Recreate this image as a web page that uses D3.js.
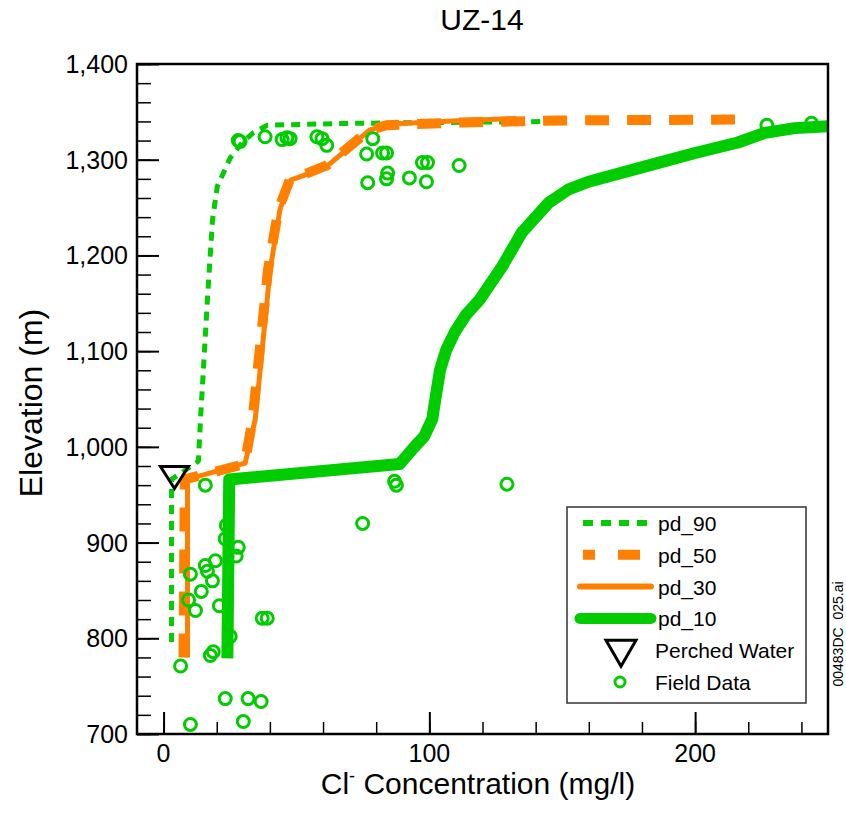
<!DOCTYPE html>
<html>
<head>
<meta charset="utf-8">
<script src="https://cdn.jsdelivr.net/npm/d3@7"></script>
<style>
	body { margin: 0; background: #fff; }
	svg text { font-family: 'Liberation Sans', Arial, sans-serif; fill: #000; }
</style>
</head>
<body>
<svg id="chart" width="846" height="813"></svg>
<script>
// profiles: [ Cl- mg/l, elevation m ]
var pd90 = [
	  [ 3.0, 796 ], [ 3.0, 966 ], [ 13.1, 985 ], [ 13.9, 1029 ], [ 16.5, 1154 ], [ 18.4, 1237 ]
	, [ 20.2, 1272 ], [ 25.1, 1302 ], [ 29.6, 1318 ], [ 33.7, 1328 ], [ 39, 1336 ], [ 70, 1338 ], [ 147, 1340 ]
];
var pd50 = [
	  [ 7.5, 780 ], [ 8.0, 966 ], [ 30.5, 982 ], [ 33.5, 1029 ], [ 36.2, 1102 ], [ 39.3, 1185 ], [ 43.2, 1248 ]
	, [ 47.5, 1279 ], [ 51.3, 1283 ], [ 61.4, 1294 ], [ 67.4, 1308 ], [ 77.5, 1331 ], [ 83.9, 1336 ]
	, [ 112.4, 1339 ], [ 150, 1341 ], [ 215, 1342 ]
];
var pd30 = [
	  [ 9.0, 780 ], [ 9.0, 966 ], [ 30.7, 983 ], [ 34.5, 1029 ], [ 37.1, 1102 ], [ 40.1, 1185 ], [ 43.8, 1248 ]
	, [ 47.9, 1279 ], [ 51.3, 1282 ], [ 61.4, 1293 ], [ 67.4, 1307 ], [ 77.5, 1331 ], [ 83.9, 1337 ]
	, [ 112.4, 1341 ], [ 132.6, 1343 ]
];
var pd10 = [
	  [ 24.0, 779 ], [ 24.7, 966 ], [ 88.8, 982 ], [ 94.4, 1000 ], [ 98.1, 1011 ], [ 101.1, 1029 ], [ 102.5, 1054 ]
	, [ 104.0, 1080 ], [ 106.3, 1101 ], [ 109.6, 1120 ], [ 113.8, 1138 ], [ 119.0, 1154 ], [ 127.3, 1188 ]
	, [ 134.8, 1224 ], [ 144.9, 1255 ], [ 152.4, 1269 ], [ 159.9, 1277 ], [ 181.3, 1293 ], [ 200.0, 1307 ]
	, [ 216.1, 1318 ], [ 226.2, 1328 ], [ 237.5, 1333 ], [ 250, 1335 ]
];
var perched = [ [ 4.1, 968 ] ];
var fieldX = [
	  28.1, 28.8, 38.2, 44.6, 46.4, 47.6, 57.7, 59.6, 61.4, 78.7, 76.4, 82.4, 83.9, 97.4, 99.3, 111.2
	, 84.3, 83.9, 76.8, 92.5, 98.9, 227.0, 243.8
	, 86.9, 87.6, 129.2, 74.9
	, 15.7, 23.6, 23.2, 28.1, 27.3, 19.5, 15.7, 16.5, 10.1, 18.4, 14.2, 9.4, 12.0, 21.0, 37.1, 39.0
	, 25.1, 17.6, 18.7, 6.4, 23.2, 31.8, 36.7, 10.1, 30.0
];
var fieldY = [
	  1320, 1319, 1324, 1321, 1323, 1322, 1324, 1322, 1315, 1322, 1306, 1307, 1307, 1297, 1297, 1294
	, 1286, 1280, 1276, 1281, 1277, 1336, 1338
	, 964, 960, 961, 920
	, 960, 918, 904, 895, 886, 881, 876, 870, 867, 860, 849, 840, 829, 834, 821, 821
	, 802, 782, 786, 771, 737, 737, 734, 710, 713
];
var xTicksMajor = [ 0, 100, 200 ];
var yTicksMajor = [ 700, 800, 900, 1000, 1100, 1200, 1300, 1400 ];
var legendNames = [ 'pd_90', 'pd_50', 'pd_30', 'pd_10', 'Perched Water', 'Field Data' ];

var C = {
	  green  : '#00cc00'
	, orange : '#ff8000'
}
var M = { left: 137, right: 828, top: 64, bottom: 734 };

var svg    = d3.select( '#chart' );
var xScale = d3.scaleLinear().domain( [ -10, 250 ] ).range( [ M.left, M.right ] );
var yScale = d3.scaleLinear().domain( [ 700, 1400 ] ).range( [ M.bottom, M.top ] );

// clip so lines stay in the frame
svg.append( 'defs' ).append( 'clipPath' ).attr( 'id', 'clip' )
	.append( 'rect' )
	.attr( 'x', M.left ).attr( 'y', M.top )
	.attr( 'width', M.right - M.left ).attr( 'height', M.bottom - M.top );

// axes, ticks inward
var xMinor = d3.range( 0, 250, 20 );
var yMinor = d3.range( 700, 1401, 20 );
svg.append( 'g' )
	.attr( 'transform', 'translate(0,'+ M.bottom +')' )
	.call( d3.axisTop( xScale ).tickValues( xMinor ).tickSize( 12 ).tickFormat( '' ) )
	.call( g => g.select( '.domain' ).remove() )
	.call( g => g.selectAll( 'line' ).attr( 'stroke-width', 1.5 ) );
svg.append( 'g' )
	.attr( 'transform', 'translate(0,'+ M.bottom +')' )
	.call( d3.axisTop( xScale ).tickValues( xTicksMajor ).tickSize( 22 ).tickFormat( '' ) )
	.call( g => g.select( '.domain' ).remove() )
	.call( g => g.selectAll( 'line' ).attr( 'stroke-width', 2 ) );
svg.append( 'g' )
	.attr( 'transform', 'translate('+ M.left +',0)' )
	.call( d3.axisRight( yScale ).tickValues( yMinor ).tickSize( 14 ).tickFormat( '' ) )
	.call( g => g.select( '.domain' ).remove() )
	.call( g => g.selectAll( 'line' ).attr( 'stroke-width', 1.5 ) );
svg.append( 'g' )
	.attr( 'transform', 'translate('+ M.left +',0)' )
	.call( d3.axisRight( yScale ).tickValues( yTicksMajor ).tickSize( 22 ).tickFormat( '' ) )
	.call( g => g.select( '.domain' ).remove() )
	.call( g => g.selectAll( 'line' ).attr( 'stroke-width', 2 ) );

// tick labels
svg.selectAll( null )
	.data( xTicksMajor )
	.join( 'text' )
	.attr( 'x', d => xScale( d ) )
	.attr( 'y', 762 )
	.attr( 'text-anchor', 'middle' )
	.attr( 'font-size', '25px' )
	.text( d => d );
svg.selectAll( null )
	.data( yTicksMajor )
	.join( 'text' )
	.attr( 'x', 128 )
	.attr( 'y', d => yScale( d ) + 9 )
	.attr( 'text-anchor', 'end' )
	.attr( 'font-size', '25px' )
	.text( d => d3.format( ',' )( d ) );

// profiles
var line = d3.line().x( d => xScale( d[ 0 ] ) ).y( d => yScale( d[ 1 ] ) );
var series = [
	  { data: pd90, color: C.green,  width: 5,  dash: '9,7' }
	, { data: pd50, color: C.orange, width: 10, dash: '24,18' }
	, { data: pd30, color: C.orange, width: 5,  dash: null }
	, { data: pd10, color: C.green,  width: 12, dash: null }
];
var plot = svg.append( 'g' ).attr( 'clip-path', 'url(#clip)' );
plot.selectAll( null )
	.data( series )
	.join( 'path' )
	.attr( 'd', d => line( d.data ) )
	.attr( 'fill', 'none' )
	.attr( 'stroke', d => d.color )
	.attr( 'stroke-width', d => d.width )
	.attr( 'stroke-dasharray', d => d.dash )
	.attr( 'stroke-linejoin', 'round' );

// field data
plot.selectAll( null )
	.data( fieldX.map( ( x, i ) => [ x, fieldY[ i ] ] ) )
	.join( 'circle' )
	.attr( 'cx', d => xScale( d[ 0 ] ) )
	.attr( 'cy', d => yScale( d[ 1 ] ) )
	.attr( 'r', 6 )
	.attr( 'fill', 'none' )
	.attr( 'stroke', C.green )
	.attr( 'stroke-width', 3 );

// perched water
function triangle( g, cx, cy, w, h ) {
	g.append( 'path' )
		.attr( 'd', 'M'+ ( cx - w/2 ) +','+ ( cy - h/2 ) +'L'+ ( cx + w/2 ) +','+ ( cy - h/2 ) +'L'+ cx +','+ ( cy + h/2 ) +'Z' )
		.attr( 'fill', 'none' )
		.attr( 'stroke', '#000' )
		.attr( 'stroke-width', 3 )
		.attr( 'stroke-linejoin', 'miter' );
}
perched.forEach( p => triangle( svg, xScale( p[ 0 ] ), yScale( p[ 1 ] ), 28, 22 ) );

// frame
svg.append( 'rect' )
	.attr( 'x', M.left ).attr( 'y', M.top )
	.attr( 'width', M.right - M.left ).attr( 'height', M.bottom - M.top )
	.attr( 'fill', 'none' )
	.attr( 'stroke', '#000' )
	.attr( 'stroke-width', 2.5 );

// titles
svg.append( 'text' )
	.attr( 'x', 482 ).attr( 'y', 30 )
	.attr( 'text-anchor', 'middle' )
	.attr( 'font-size', '30px' )
	.text( 'UZ-14' );
var xl = svg.append( 'text' )
	.attr( 'x', 478 ).attr( 'y', 794 )
	.attr( 'text-anchor', 'middle' )
	.attr( 'font-size', '30px' );
xl.append( 'tspan' ).text( 'Cl' );
xl.append( 'tspan' ).attr( 'dy', -12 ).attr( 'font-size', '18px' ).text( '-' );
xl.append( 'tspan' ).attr( 'dy', 12 ).text( ' Concentration (mg/l)' );
svg.append( 'text' )
	.attr( 'transform', 'translate(42,403) rotate(-90)' )
	.attr( 'text-anchor', 'middle' )
	.attr( 'font-size', '32px' )
	.text( 'Elevation (m)' );
svg.append( 'text' )
	.attr( 'transform', 'translate(843,634) rotate(-90)' )
	.attr( 'text-anchor', 'middle' )
	.attr( 'font-size', '14px' )
	.attr( 'xml:space', 'preserve' )
	.text( '00483DC  025.ai' );

// legend
var lg = svg.append( 'g' );
lg.append( 'rect' )
	.attr( 'x', 567 ).attr( 'y', 507 )
	.attr( 'width', 239 ).attr( 'height', 196 )
	.attr( 'fill', '#fff' )
	.attr( 'stroke', '#333' )
	.attr( 'stroke-width', 1.5 );
var legendRows = legendNames.map( ( name, i ) => ( { name: name, y: 523 + i * 31.8 } ) );
lg.selectAll( null )
	.data( legendRows )
	.join( 'text' )
	.attr( 'x', d => d.name.length > 5 ? 655 : 658 )
	.attr( 'y', d => d.y + 8 )
	.attr( 'font-size', '21px' )
	.text( d => d.name );
lg.selectAll( null )
	.data( series.map( ( s, i ) => Object.assign( { y: legendRows[ i ].y }, s ) ) )
	.join( 'line' )
	.attr( 'x1', ( d, i ) => i < 2 ? 583 : 580 )
	.attr( 'x2', ( d, i ) => i < 2 ? 650 : 651 )
	.attr( 'y1', d => d.y )
	.attr( 'y2', d => d.y )
	.attr( 'stroke', d => d.color )
	.attr( 'stroke-width', ( d, i ) => i === 3 ? 11 : i === 1 ? 10 : 6 )
	.attr( 'stroke-dasharray', ( d, i ) => i === 0 ? '10,8' : i === 1 ? '12,23,22' : null )
	.attr( 'stroke-linecap', ( d, i ) => i >= 2 ? 'round' : 'butt' );
triangle( lg, 621, legendRows[ 4 ].y + 3, 30, 26 );
lg.append( 'circle' )
	.attr( 'cx', 620 ).attr( 'cy', legendRows[ 5 ].y )
	.attr( 'r', 5 )
	.attr( 'fill', 'none' )
	.attr( 'stroke', C.green )
	.attr( 'stroke-width', 3 );
</script>
</body>
</html>
